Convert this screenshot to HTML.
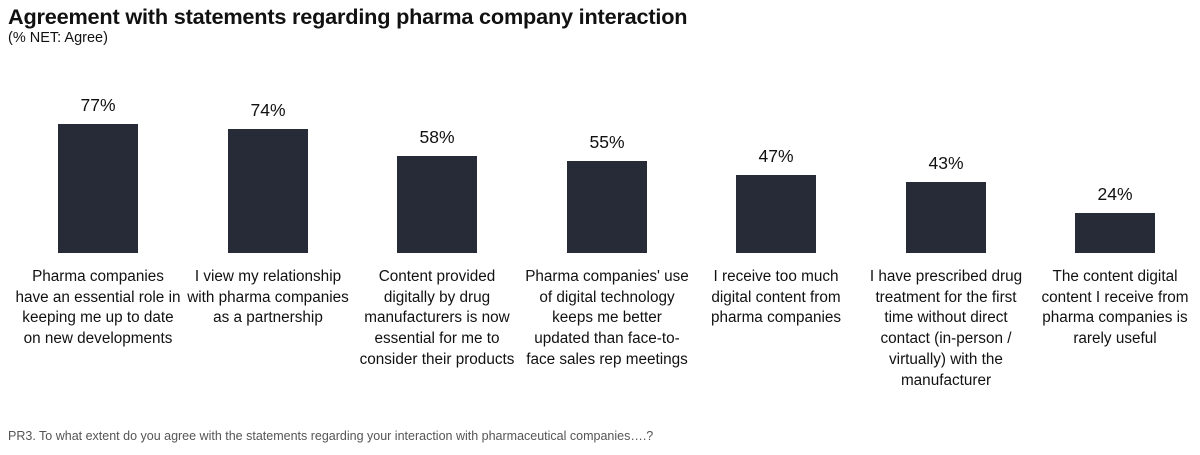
<!DOCTYPE html>
<html><head><meta charset="utf-8"><style>
body{margin:0;width:1200px;height:455px;background:#fff;font-family:"Liberation Sans",sans-serif;color:#111;position:relative;overflow:hidden}
.t{position:absolute;left:8px;top:4px;font-size:21.7px;font-weight:bold;letter-spacing:-0.2px}
.s{position:absolute;left:8px;top:30px;font-size:14.5px}
.bar{position:absolute;width:80px;background:#272b38;bottom:202px}
.p{position:absolute;width:120px;text-align:center;font-size:17.5px}
.l{position:absolute;width:170px;text-align:center;font-size:15.3px;line-height:20.7px;top:267px;white-space:nowrap}
.f{position:absolute;left:8px;top:429px;font-size:12.5px;color:#555}
</style></head><body>
<div class="t">Agreement with statements regarding pharma company interaction</div>
<div class="s">(% NET: Agree)</div>

<div class="bar" style="left:58px;height:129px"></div><div class="p" style="left:38px;top:95px">77%</div>
<div class="bar" style="left:228px;height:124px"></div><div class="p" style="left:208px;top:100px">74%</div>
<div class="bar" style="left:397px;height:97px"></div><div class="p" style="left:377px;top:127px">58%</div>
<div class="bar" style="left:567px;height:92px"></div><div class="p" style="left:547px;top:132px">55%</div>
<div class="bar" style="left:736px;height:78px"></div><div class="p" style="left:716px;top:146px">47%</div>
<div class="bar" style="left:906px;height:71px"></div><div class="p" style="left:886px;top:153px">43%</div>
<div class="bar" style="left:1075px;height:40px"></div><div class="p" style="left:1055px;top:184px">24%</div>

<div class="l" style="left:13px">Pharma companies<br>have an essential role in<br>keeping me up to date<br>on new developments</div>
<div class="l" style="left:183px">I view my relationship<br>with pharma companies<br>as a partnership</div>
<div class="l" style="left:352px">Content provided<br>digitally by drug<br>manufacturers is now<br>essential for me to<br>consider their products</div>
<div class="l" style="left:522px">Pharma companies' use<br>of digital technology<br>keeps me better<br>updated than face-to-<br>face sales rep meetings</div>
<div class="l" style="left:691px">I receive too much<br>digital content from<br>pharma companies</div>
<div class="l" style="left:861px">I have prescribed drug<br>treatment for the first<br>time without direct<br>contact (in-person /<br>virtually) with the<br>manufacturer</div>
<div class="l" style="left:1030px">The content digital<br>content I receive from<br>pharma companies is<br>rarely useful</div>

<div class="f">PR3. To what extent do you agree with the statements regarding your interaction with pharmaceutical companies….?</div>
</body></html>
